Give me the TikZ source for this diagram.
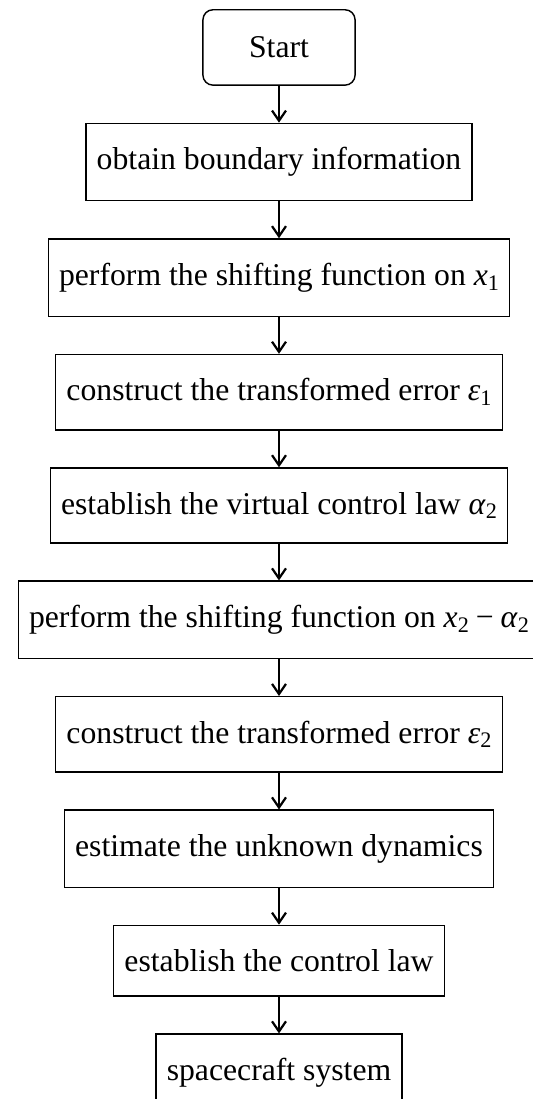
\documentclass[tikz,border=0pt]{standalone}
\usepackage{fontspec}
\setmainfont{Liberation Serif}
\usetikzlibrary{positioning,arrows.meta}
\newcommand{\mvar}[1]{\textit{#1}}
\newcommand{\msub}[1]{\raisebox{-1.5pt}{\fontsize{7}{7}\selectfont #1}}
\newcommand{\mminus}{\hspace{2.2pt}\char"2212\hspace{2.2pt}}
\tikzset{
  procbox/.style={draw=black, line width=0.45pt, inner xsep=3.4pt, inner ysep=7.6pt, font=\fontsize{10}{12}\selectfont},
  startbox/.style={procbox, rounded corners=3.2pt, minimum width=48pt, minimum height=23.8pt},
  flowarrow/.style={-{Straight Barb[length=3.2pt,width=4.4pt]}, line width=0.7pt},
}
\begin{document}
\begin{tikzpicture}[x=0.3154pt, y=-0.3154pt, node distance=11.6pt]
\useasboundingbox (0,0) rectangle (533,1099);
\node[startbox, anchor=north] (n0) at (279,9) {Start};
\node[procbox, below=of n0] (n1) {obtain boundary information};
\node[procbox, below=of n1] (n2) {perform the shifting function on \mvar{x}\msub{1}};
\node[procbox, below=of n2] (n3) {construct the transformed error \mvar{ε}\msub{1}};
\node[procbox, below=of n3] (n4) {establish the virtual control law \mvar{α}\msub{2}};
\node[procbox, below=of n4] (n5) {perform the shifting function on \mvar{x}\msub{2}\mminus\mvar{α}\msub{2}};
\node[procbox, below=of n5] (n6) {construct the transformed error \mvar{ε}\msub{2}};
\node[procbox, below=of n6] (n7) {estimate the unknown dynamics};
\node[procbox, below=of n7] (n8) {establish the control law};
\node[procbox, below=of n8] (n9) {spacecraft system};
\foreach \a/\b in {n0/n1,n1/n2,n2/n3,n3/n4,n4/n5,n5/n6,n6/n7,n7/n8,n8/n9}
  \draw[flowarrow] (\a) -- (\b);
\end{tikzpicture}
\end{document}
